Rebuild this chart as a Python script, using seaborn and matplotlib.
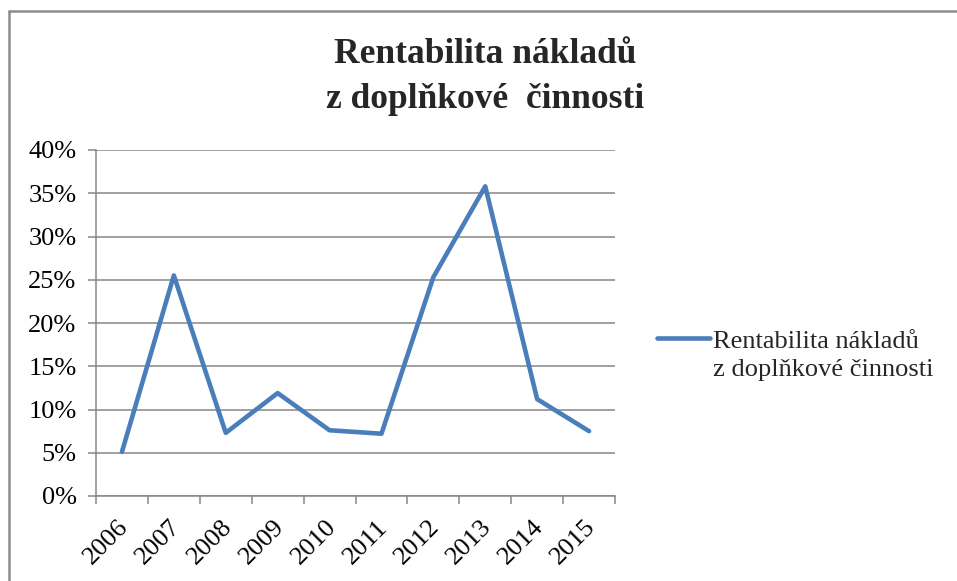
import numpy as np
import pandas as pd
import seaborn as sns
import matplotlib.pyplot as plt
from matplotlib.lines import Line2D
from matplotlib.ticker import PercentFormatter
from matplotlib.transforms import ScaledTranslation
from matplotlib.legend_handler import HandlerLine2D

YEARS = ["2006", "2007", "2008", "2009", "2010", "2011", "2012", "2013", "2014", "2015"]
VALUES = [0.051, 0.255, 0.073, 0.119, 0.076, 0.072, 0.253, 0.358, 0.112, 0.075]
YTICKS = [0.0, 0.05, 0.10, 0.15, 0.20, 0.25, 0.30, 0.35, 0.40]
SERIES = "Rentabilita nákladů\nz doplňkové činnosti"
TITLE = "Rentabilita nákladů\nz doplňkové  činnosti"

LINE_COLOR = "#4a7ebb"
GRAY = "#868686"
LEGEND_SIZE = 19
LEGEND_SPACING = 1.33

sns.set_style("white")
plt.rcParams["font.family"] = ["Liberation Serif", "DejaVu Serif"]


class FirstLineHandler(HandlerLine2D):
    # put the legend line next to the first row of a two-row label
    def create_artists(self, legend, orig_handle, xdescent, ydescent,
                       width, height, fontsize, trans):
        artists = super().create_artists(legend, orig_handle, xdescent, ydescent,
                                         width, height, fontsize, trans)
        for a in artists:
            a.set_ydata(np.asarray(a.get_ydata()) + fontsize * LEGEND_SPACING / 2)
        return artists


data = pd.DataFrame({"year": YEARS, "value": VALUES})

fig = plt.figure(figsize=(9.57, 5.81), dpi=100)
ax = fig.add_axes([96 / 957, 1 - 496 / 581, (615 - 96) / 957, (496 - 150) / 581])

sns.lineplot(data=data, x="year", y="value", ax=ax, color=LINE_COLOR,
             linewidth=3.3, label=SERIES, sort=False)

ax.set_xlim(-0.5, len(YEARS) - 0.5)
ax.set_ylim(0, 0.40)
ax.set_yticks(YTICKS)
ax.yaxis.set_major_formatter(PercentFormatter(1.0, decimals=0))
ax.set_xticks(np.arange(-0.5, len(YEARS), 1.0), minor=True)

ax.grid(axis="y", color=GRAY, linewidth=1.1)
ax.grid(axis="x", visible=False)
for side in ["top", "right"]:
    ax.spines[side].set_visible(False)
for side in ["left", "bottom"]:
    ax.spines[side].set_color(GRAY)
    ax.spines[side].set_linewidth(1.1)

ax.tick_params(axis="y", which="major", left=True, length=6, width=1.1,
               color=GRAY, labelsize=19, pad=8, labelcolor="black")
ax.tick_params(axis="x", which="major", bottom=True, length=0, labelsize=19,
               pad=20, labelcolor="black")
ax.tick_params(axis="x", which="minor", bottom=True, length=6, width=1.1,
               color=GRAY)
shift = ScaledTranslation(3 / 100, 0, fig.dpi_scale_trans)
for lab in ax.get_xticklabels():
    lab.set_rotation(45)
    lab.set_ha("right")
    lab.set_va("center")
    lab.set_rotation_mode("anchor")
    lab.set_transform(lab.get_transform() + shift)

ax.set_xlabel("")
ax.set_ylabel("")

handles, labels = ax.get_legend_handles_labels()
leg = ax.legend(handles, labels, loc="center left",
                bbox_to_anchor=(657 / 957, 1 - 356 / 581), bbox_transform=fig.transFigure,
                frameon=False, borderpad=0, borderaxespad=0, fontsize=LEGEND_SIZE,
                handlelength=2.0, handletextpad=0.12,
                handler_map={Line2D: FirstLineHandler()})
for t in leg.get_texts():
    t.set_linespacing(LEGEND_SPACING)

fig.text(485 / 957, 1 - 77 / 581, TITLE, ha="center", va="center",
         fontsize=25.5, fontweight="bold", linespacing=1.47)

# chart frame (only left and top edges are visible in the crop)
fig.add_artist(Line2D([8.5 / 957, 8.5 / 957], [0, 1 - 11 / 581],
                      transform=fig.transFigure, color="#8c8c8c", linewidth=1.8))
fig.add_artist(Line2D([8.5 / 957, 1], [1 - 11 / 581, 1 - 11 / 581],
                      transform=fig.transFigure, color="#8c8c8c", linewidth=1.8))

fig.savefig("out.png", dpi=100)
